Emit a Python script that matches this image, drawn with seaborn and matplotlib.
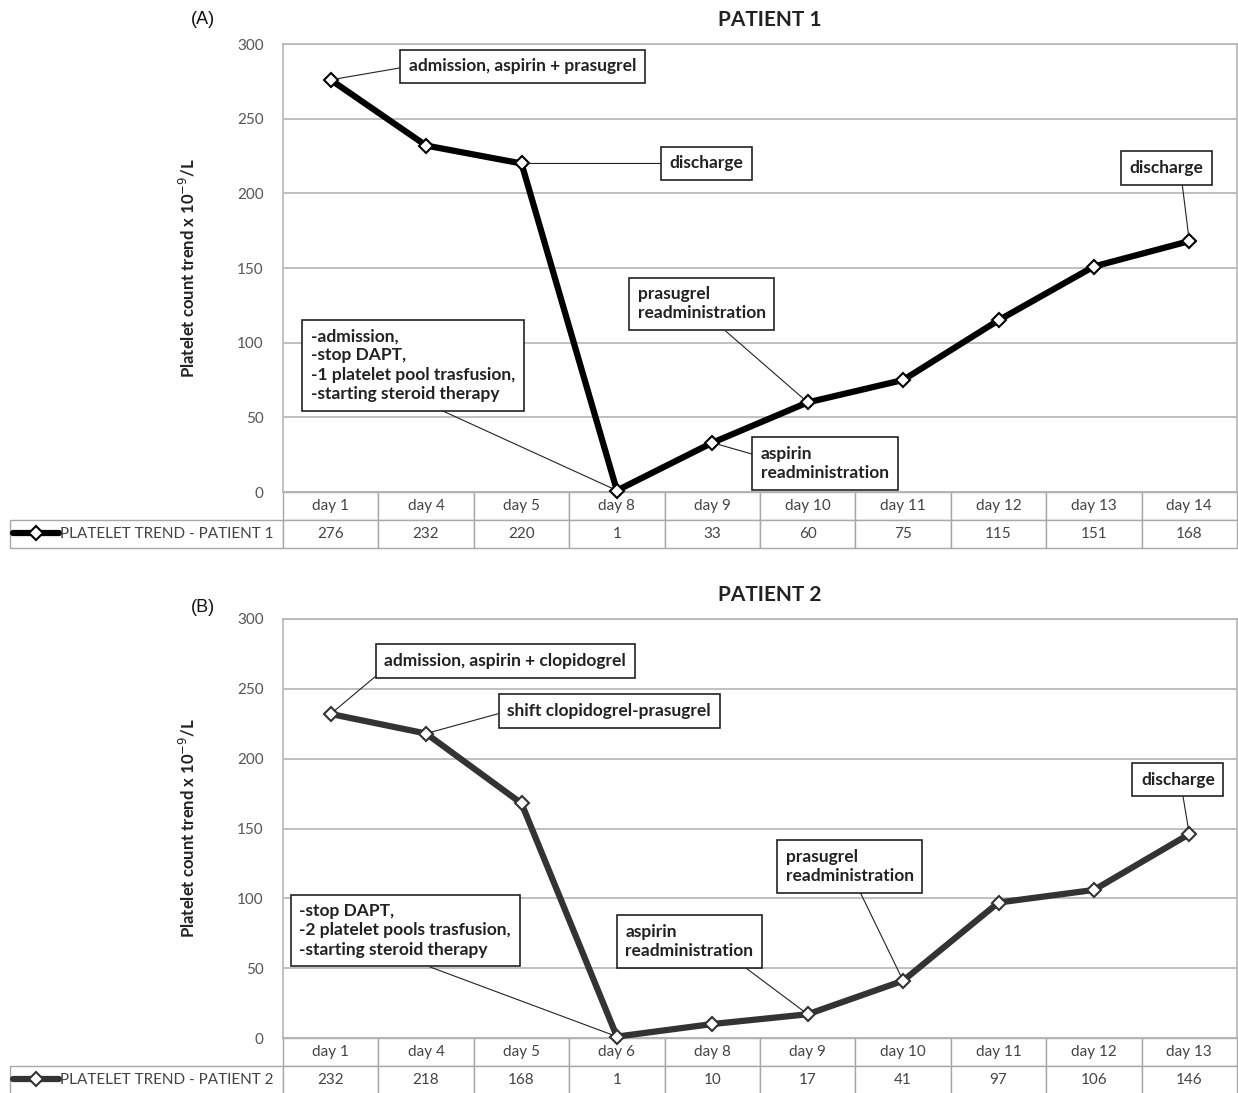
import numpy as np
import seaborn as sns
import matplotlib.pyplot as plt

# valori
days1 = ['day 1', 'day 4', 'day 5', 'day 8', 'day 9', 'day 10', 'day 11', 'day 12', 'day 13', 'day 14']
platelets1 = [276, 232, 220, 1, 33, 60, 75, 115, 151, 168]
days2 = ['day 1', 'day 4', 'day 5', 'day 6', 'day 8', 'day 9', 'day 10', 'day 11', 'day 12', 'day 13']
platelets2 = [232, 218, 168, 1, 10, 17, 41, 97, 106, 146]

notes1 = ['admission, aspirin + prasugrel', 'discharge', 'discharge',
          'prasugrel\nreadministration',
          '-admission,\n-stop DAPT,\n-1 platelet pool trasfusion,\n-starting steroid therapy',
          'aspirin\nreadministration']
notes2 = ['admission, aspirin + clopidogrel', 'shift clopidogrel-prasugrel', 'discharge',
          'prasugrel\nreadministration', 'aspirin\nreadministration',
          '-stop DAPT,\n-2 platelet pools trasfusion,\n-starting steroid therapy']

# (indice punto, x box, y box, relpos)
layout1 = [(0, 2.01, 285, (0, 0.5)), (2, 3.94, 220, (0, 0.5)), (9, 8.76, 217, (0.7, 0)),
           (5, 3.89, 126, (0.6, 0)), (3, 0.86, 85, (0.55, 0)), (4, 5.18, 19, (0, 0.7))]
layout2 = [(0, 1.83, 270, (0, 0)), (1, 2.92, 234, (0, 0.5)), (9, 8.88, 185, (0.55, 0)),
           (6, 5.44, 123, (0.55, 0)), (5, 3.76, 69, (0.85, 0)), (3, 0.78, 77, (0.5, 0))]

sns.set_theme(style='whitegrid')
plt.rcParams['font.family'] = ['Lato', 'DejaVu Sans']

W, H = 1238, 1093
fig = plt.figure(figsize=(W / 100, H / 100), dpi=100)


def draw_panel(top_px, bot_px, days, values, notes, layout, color, n, letter):
    left_px, right_px = 283, 1237
    ax = fig.add_axes([left_px / W, 1 - bot_px / H, (right_px - left_px) / W, (bot_px - top_px) / H])
    sns.lineplot(x=days, y=values, ax=ax, sort=False, color=color, lw=4.5,
                 marker='D', markersize=7, markerfacecolor='white',
                 markeredgecolor=color, markeredgewidth=1.5, clip_on=False, zorder=5,
                 label='PLATELET TREND - PATIENT %d' % n)
    ax.set_xlim(-0.5, len(days) - 0.5)
    ax.set_ylim(0, 300)
    ax.set_yticks(range(0, 301, 50))
    ax.tick_params(axis='y', labelsize=11, labelcolor='#555555', length=0, pad=14)
    ax.set_xticks([])
    ax.set_xlabel('')
    ax.grid(axis='y', color='#b5b5b5', lw=1.2)
    ax.grid(axis='x', visible=False)
    for s in ax.spines.values():
        s.set_color('#b5b5b5')
        s.set_linewidth(1.2)
    ax.set_ylabel('Platelet count trend x 10$^{-9}$/L', fontsize=12, fontweight='bold', color='#222222')
    ax.yaxis.set_label_coords(-0.09, 0.5)

    for text, (i, bx, by, rp) in zip(notes, layout):
        ax.annotate(text, xy=(i, values[i]), xytext=(bx, by), textcoords='data',
                    ha='center', va='center', multialignment='left', fontsize=12.5,
                    fontweight='bold', linespacing=1.25, color='#222222', zorder=6,
                    bbox=dict(boxstyle='square,pad=0.5', fc='white', ec='#222222', lw=1.2),
                    arrowprops=dict(arrowstyle='-', color='#222222', lw=0.8,
                                    shrinkA=0, shrinkB=4, relpos=rp))

    # tabella dati sotto il grafico
    h = 56 / (bot_px - top_px)
    lw = 273 / (right_px - left_px)
    tab = ax.table(cellText=[[''] + [str(v) for v in values]], colLabels=[''] + days,
                   colWidths=[lw] + [1 / len(days)] * len(days), cellLoc='center',
                   bbox=[-lw, -h, 1 + lw, h])
    tab.auto_set_font_size(False)
    tab.set_fontsize(11)
    for (r, c), cell in tab.get_celld().items():
        cell.set_edgecolor('#a8a8a8')
        cell.get_text().set_color('#444444')
        if r == 0 and c == 0:
            cell.set_visible(False)

    leg = ax.legend(loc='center left', bbox_to_anchor=(13 / W, 1 - (bot_px + 42) / H),
                    bbox_transform=fig.transFigure, frameon=False, fontsize=11,
                    handlelength=3.0, handletextpad=0.1, borderaxespad=0, borderpad=0)
    for t in leg.get_texts():
        t.set_color('#444444')

    fig.text(770 / W, 1 - (top_px - 24) / H, 'PATIENT %d' % n, ha='center', va='center',
             fontsize=15, fontweight='bold', color='#222222')
    fig.text(203 / W, 1 - (top_px - 24 + (12 if n == 2 else 0)) / H, letter, ha='center', va='center',
             fontsize=13, family='Liberation Sans', color='#111111')
    return ax


draw_panel(44, 492, days1, platelets1, notes1, layout1, '#000000', 1, '(A)')
draw_panel(619, 1038, days2, platelets2, notes2, layout2, '#333333', 2, '(B)')

fig.savefig('out.png', dpi=100)
